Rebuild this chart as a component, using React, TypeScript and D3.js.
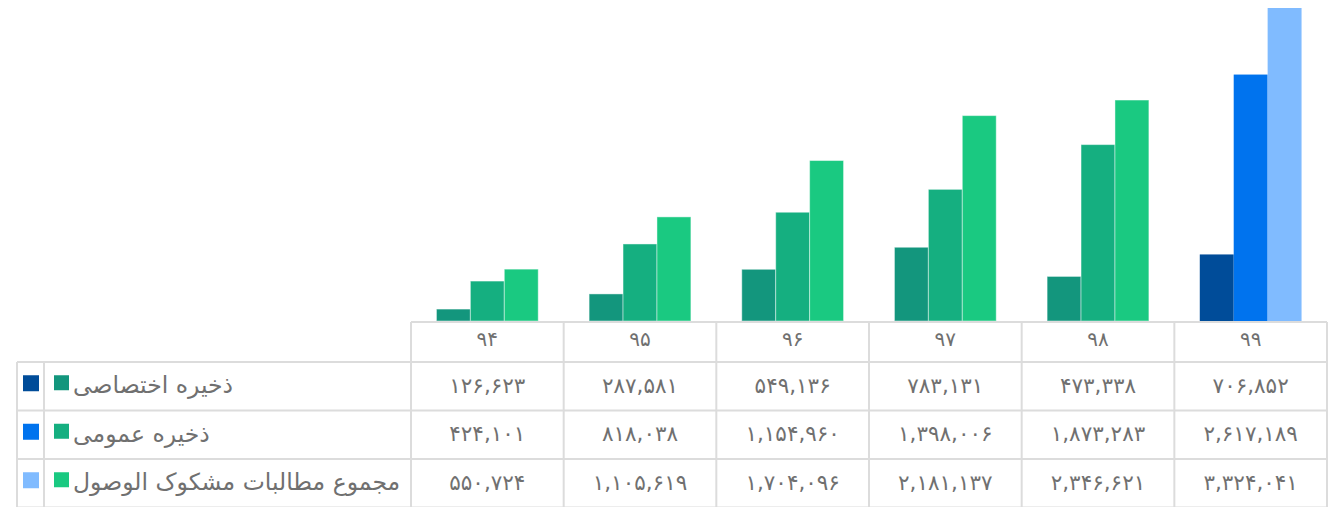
import React from "react";
import * as d3 from "d3";

const categories = ["94", "95", "96", "97", "98", "99"];
const seriesNames = ["ذخیره اختصاصی", "ذخیره عمومی", "مجموع مطالبات مشکوک الوصول"];
const reserveSpecific = [126623, 287581, 549136, 783131, 473338, 706852];
const reserveGeneral = [424101, 818038, 1154960, 1398006, 1873283, 2617189];
const doubtfulTotal = [550724, 1105619, 1704096, 2181137, 2346621, 3324041];
const greenColors = ["#13967D", "#15AF80", "#1AC981"];
const blueColors = ["#004C99", "#0073EE", "#80BBFF"];
const highlightCategory = "99";

const W = 1332;
const H = 507;
const series = [reserveSpecific, reserveGeneral, doubtfulTotal];

const fa = (s: string) => s.replace(/[0-9]/g, (d) => "۰۱۲۳۴۵۶۷۸۹"[+d]);
const fmt = d3.format(",");

export default function App() {
  const tableLeft = 411;
  const tableRight = 1327;
  const baseY = 321;
  const x0 = d3.scaleBand<string>().domain(categories).range([tableLeft, tableRight]).padding(0);
  const bw = x0.bandwidth();
  const groupW = (bw * 2) / 3;
  const x1 = d3.scaleBand<number>().domain([0, 1, 2]).range([(bw - groupW) / 2, (bw + groupW) / 2]).padding(0);
  const y = d3.scaleLinear().domain([0, d3.max(doubtfulTotal) as number]).range([baseY, 8]);

  const headerTop = 322;
  const rowYs = [322, 362, 410.5, 459, 507.5];
  const gridColor = "#DCDCDC";
  const textColor = "#707070";
  const font = "'DejaVu Sans', sans-serif";

  return (
    <div style={{ position: "absolute", left: 0, top: 0 }}>
      <svg width={W} height={H} style={{ display: "block" }}>
        <rect width={W} height={H} fill="#fff" />
        {categories.map((c, ci) => (
          <g key={c} transform={`translate(${x0(c)},0)`}>
            {series.map((vals, si) => {
              const isHi = c === highlightCategory;
              const col = isHi ? blueColors[si] : greenColors[si];
              return (
                <rect
                  key={si}
                  x={x1(si)}
                  y={y(vals[ci])}
                  width={x1.bandwidth()}
                  height={baseY - y(vals[ci])}
                  fill={col}
                  stroke={isHi ? "none" : "rgba(255,255,255,0.45)"}
                  strokeWidth={1}
                />
              );
            })}
          </g>
        ))}
        <g stroke={gridColor} strokeWidth={2} fill="none">
          <line x1={tableLeft} x2={tableRight} y1={headerTop} y2={headerTop} />
          {rowYs.slice(1).map((ry, i) => (
            <line key={i} x1={17} x2={tableRight} y1={ry} y2={ry} />
          ))}
          {[...categories.map((c) => x0(c) as number), tableRight].map((vx, i) => (
            <line key={i} x1={vx} x2={vx} y1={headerTop} y2={H + 5} />
          ))}
          <line x1={17} x2={17} y1={rowYs[1]} y2={H + 5} />
          <line x1={44} x2={44} y1={rowYs[1]} y2={H + 5} />
        </g>
        {categories.map((c) => (
          <text
            key={c}
            x={(x0(c) as number) + bw / 2}
            y={(rowYs[0] + rowYs[1]) / 2 - 3}
            textAnchor="middle"
            dominantBaseline="central"
            fontFamily={font}
            fontSize={20}
            fill={textColor}
          >
            {fa(c)}
          </text>
        ))}
        {series.map((vals, si) => {
          const cy = (rowYs[si + 1] + rowYs[si + 2]) / 2;
          return (
            <g key={si}>
              <rect x={23} y={cy - 11} width={16} height={16} fill={blueColors[si]} />
              <rect x={54} y={cy - 11} width={15} height={15} fill={greenColors[si]} />
              <text
                x={73}
                y={cy - 1}
                textAnchor="start"
                dominantBaseline="central"
                fontFamily={font}
                fontSize={23.5}
                fill={textColor}
              >
                {seriesNames[si]}
              </text>
              {categories.map((c, ci) => (
                <text
                  key={c}
                  x={(x0(c) as number) + bw / 2}
                  y={cy - 1}
                  textAnchor="middle"
                  dominantBaseline="central"
                  fontFamily={font}
                  fontSize={21.5}
                  fill={textColor}
                >
                  {fa(fmt(vals[ci]))}
                </text>
              ))}
            </g>
          );
        })}
      </svg>
    </div>
  );
}
